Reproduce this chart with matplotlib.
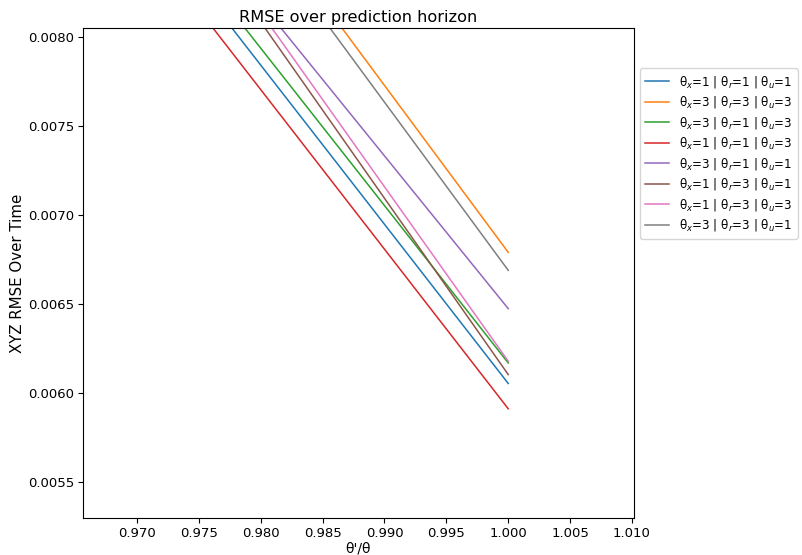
#RMSE over prediction horizon for different theta weightings
import numpy as np
import matplotlib
matplotlib.use('Agg')
import matplotlib.pyplot as plt

#Input data
ratio = [0.95, 1.0]

labels = ['θ$_x$=1 | θ$_r$=1 | θ$_u$=1',
          'θ$_x$=3 | θ$_r$=3 | θ$_u$=3',
          'θ$_x$=3 | θ$_r$=1 | θ$_u$=3',
          'θ$_x$=1 | θ$_r$=1 | θ$_u$=3',
          'θ$_x$=3 | θ$_r$=1 | θ$_u$=1',
          'θ$_x$=1 | θ$_r$=3 | θ$_u$=1',
          'θ$_x$=1 | θ$_r$=3 | θ$_u$=3',
          'θ$_x$=3 | θ$_r$=3 | θ$_u$=1']

rmse_111 = [0.010522, 0.006055]
rmse_333 = [0.011475, 0.006791]
rmse_313 = [0.010587, 0.006170]
rmse_113 = [0.010391, 0.005913]
rmse_311 = [0.010762, 0.006475]
rmse_131 = [0.011052, 0.006105]
rmse_133 = [0.011075, 0.006180]
rmse_331 = [0.011409, 0.006690]

series = [rmse_111, rmse_333, rmse_313, rmse_113,
          rmse_311, rmse_131, rmse_133, rmse_331]

fig = plt.figure(figsize=(8.03, 5.55), dpi=100)
ax = fig.add_axes([0.1034, 0.0667, 0.6861, 0.8828])

for y, lab in zip(series, labels):
    ax.plot(ratio, y, label=lab, linewidth=1.1)

ax.set_xlim(0.96564, 1.01016)
ax.set_ylim(0.0053, 0.00805)
ax.set_xticks(np.arange(0.970, 1.0101, 0.005))
ax.set_yticks(np.arange(0.0055, 0.00801, 0.0005))
ax.tick_params(labelsize=9.5, length=3.5, pad=3)

ax.set_title('RMSE over prediction horizon', fontsize=11.6, pad=4)
ax.set_xlabel("θ'/θ", fontsize=10, labelpad=1)
ax.set_ylabel('XYZ RMSE Over Time', fontsize=10.8, labelpad=2)

ax.legend(loc='upper left', bbox_to_anchor=(1.0, 0.93), fontsize=8.6,
          labelspacing=0.38, handlelength=2.0, borderpad=0.45)

plt.savefig('out.png', dpi=100)
